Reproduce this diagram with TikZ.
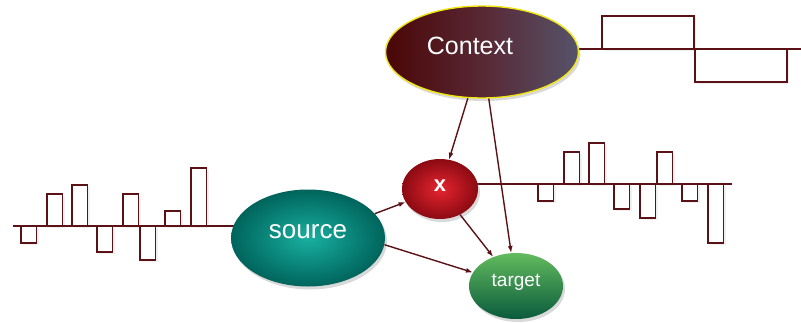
\documentclass[tikz,border=0pt]{standalone}
\usepackage{fontspec}
\setmainfont{Liberation Sans}
\usepackage{xcolor}
\usetikzlibrary{arrows.meta,shapes.geometric,shadows,backgrounds}
\definecolor{wire}{HTML}{5A1216}

\begin{document}
\begin{tikzpicture}[
    x=1pt, y=-1pt,
    blob/.style={ellipse, inner sep=0pt, text=white, drop shadow={opacity=0.3, shadow xshift=2pt, shadow yshift=-3pt}},
    tag/.style={text=white, font=\fontsize{#1}{#1}\selectfont},
    bar/.style={draw=wire, fill=white, line width=1.6pt, drop shadow={opacity=0.12, shadow xshift=2pt, shadow yshift=-2pt}},
    axisline/.style={draw=wire, line width=1.8pt},
    arrow/.style={-{Latex[length=7pt,width=5pt]}, draw=wire, line width=1.4pt}
]
    \useasboundingbox (0,0) rectangle (801,322);

    \node[blob, minimum width=193pt, minimum height=92pt, draw={rgb,255:red,240;green,230;blue,20}, line width=1.4pt,
          shading=axis, left color={rgb,255:red,74;green,6;blue,6}, right color={rgb,255:red,86;green,83;blue,106},
          middle color={rgb,255:red,88;green,40;blue,52},
          label={[tag=25, xshift=-12pt, yshift=6pt]center:Context}]
          (context) at (482,52) {};
    \node[blob, minimum width=76pt, minimum height=60pt, shading=radial,
          inner color={rgb,255:red,229;green,37;blue,48}, outer color={rgb,255:red,140;green,10;blue,18},
          label={[text=white, font=\bfseries\fontsize{22}{22}\selectfont, yshift=3pt]center:x}] (xnode) at (440,189) {};
    \node[blob, minimum width=154pt, minimum height=97pt, shading=radial,
          inner color={rgb,255:red,24;green,176;blue,160}, outer color={rgb,255:red,0;green,100;blue,92},
          label={[tag=26, yshift=6pt]center:source}] (source) at (308,238) {};
    \node[blob, minimum width=94pt, minimum height=66pt,
          top color={rgb,255:red,98;green,187;blue,94}, bottom color={rgb,255:red,10;green,90;blue,60},
          label={[tag=19, yshift=4pt]center:target}] (target) at (516,286) {};

    \coordinate (lsig) at (13,226);
    \coordinate (rsig) at (732,184);
    \coordinate (tsig) at (801,49);

    \begin{scope}[on background layer]
        \foreach \xa/\h in {21/-17, 47/32, 72/41, 97/-26, 123/32, 140/-34, 165/15, 191/58}
            \draw[bar] (\xa,226) rectangle ++(15.5,-\h);
        \foreach \xa/\h in {538/-17, 564/32, 589/41, 614/-25, 640/-34, 657/32, 682/-17, 708/-59}
            \draw[bar] (\xa,184) rectangle ++(15.5,-\h);
        \draw[bar] (602,49) rectangle (694,16);
        \draw[bar] (695,49) rectangle (787,82);

        \draw[axisline] (lsig) -- (lsig -| source.center);
        \draw[axisline] (xnode.center |- rsig) -- (rsig);
        \draw[axisline] (context.center |- tsig) -- (tsig);
    \end{scope}

    \draw[arrow] (context) -- (xnode);
    \draw[arrow] (context) -- (target);
    \draw[arrow] (source.20) -- (xnode);
    \draw[arrow] (source.-5) -- (target);
    \draw[arrow] (xnode) -- (target);
\end{tikzpicture}
\end{document}
